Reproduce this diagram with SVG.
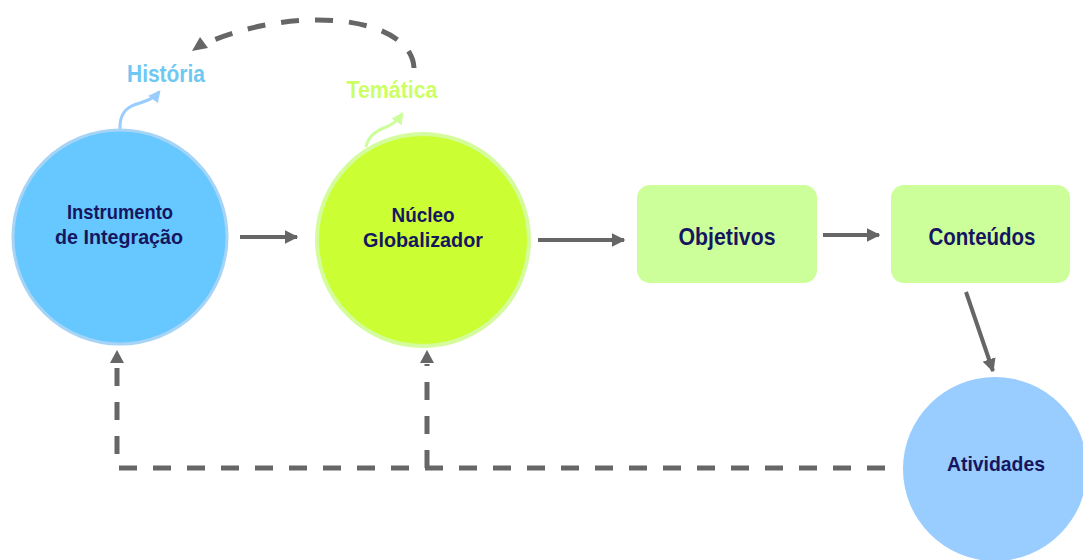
<svg xmlns="http://www.w3.org/2000/svg" width="1083" height="560" viewBox="0 0 1083 560">
<style>
.lbl{font-family:"Liberation Sans",Arial,sans-serif;font-weight:bold;fill:#161660;text-anchor:middle}
.conn{stroke:#666;fill:none;stroke-width:4}
.dash{stroke:#666;fill:none;stroke-width:5;stroke-dasharray:18 16}
</style>
<defs>
<marker id="ah" viewBox="0 0 10 10" refX="9" refY="5" markerWidth="3.4" markerHeight="3.4" orient="auto" markerUnits="strokeWidth">
<path d="M0,0 L10,5 L0,10 z" fill="#666"/>
</marker>
<marker id="ahb" viewBox="0 0 10 10" refX="8" refY="5" markerWidth="4" markerHeight="4" orient="auto" markerUnits="strokeWidth">
<path d="M0,0 L10,5 L0,10 z" fill="#99ccff"/>
</marker>
<marker id="ahg" viewBox="0 0 10 10" refX="8" refY="5" markerWidth="4" markerHeight="4" orient="auto" markerUnits="strokeWidth">
<path d="M0,0 L10,5 L0,10 z" fill="#ccff99"/>
</marker>
</defs>
<rect width="1083" height="560" fill="#fff"/>
<g id="connectors">
<line class="conn" x1="240" y1="237" x2="297" y2="237" marker-end="url(#ah)"/>
<line class="conn" x1="538" y1="240" x2="624" y2="240" marker-end="url(#ah)"/>
<line class="conn" x1="823" y1="235" x2="879" y2="235" marker-end="url(#ah)"/>
<line class="conn" x1="966" y1="292" x2="993" y2="371" marker-end="url(#ah)"/>
<path class="dash" d="M885,468 L117,468 L117,364"/>
<path d="M117,350 L110,363 L124,363 z" fill="#666"/>
<path class="dash" d="M427,468 L427,364"/>
<path d="M427,350 L420,363 L434,363 z" fill="#666"/>
<path class="dash" d="M414,68 C412,18 300,2 204,44"/>
<path d="M192,51 L200,37 L208,48 z" fill="#666"/>
<path d="M120,130 C119,112 128,106 140,103 C150,100 155,97 159,92" stroke="#99ccff" stroke-width="3" fill="none" marker-end="url(#ahb)"/>
<path d="M366,147 C368,136 376,131 386,127 C394,124 398,120 402,114" stroke="#ccff99" stroke-width="3" fill="none" marker-end="url(#ahg)"/>
</g>
<g id="historia"><text x="166" y="82" font-family="Liberation Sans,Arial,sans-serif" font-weight="bold" font-size="23" fill="#6ec8f2" text-anchor="middle" textLength="78" lengthAdjust="spacingAndGlyphs">História</text></g>
<g id="tematica"><text x="392" y="98" font-family="Liberation Sans,Arial,sans-serif" font-weight="bold" font-size="23" fill="#ccff66" text-anchor="middle" textLength="91" lengthAdjust="spacingAndGlyphs">Temática</text></g>
<g id="instrumento">
<circle cx="120" cy="237" r="107" fill="#66c8ff" stroke="#a6d4f7" stroke-width="3"/>
<text class="lbl" x="120" y="219" font-size="21" textLength="106" lengthAdjust="spacingAndGlyphs">Instrumento</text>
<text class="lbl" x="119" y="244" font-size="21" textLength="128" lengthAdjust="spacingAndGlyphs">de Integração</text>
</g>
<g id="nucleo">
<circle cx="423" cy="240" r="106" fill="#ccff33" stroke="#d4fb9c" stroke-width="4"/>
<text class="lbl" x="423" y="222" font-size="21" textLength="63" lengthAdjust="spacingAndGlyphs">Núcleo</text>
<text class="lbl" x="423" y="247" font-size="21" textLength="120" lengthAdjust="spacingAndGlyphs">Globalizador</text>
</g>
<g id="objetivos">
<rect x="637" y="185" width="180" height="98" rx="13" fill="#ccff99"/>
<text class="lbl" x="727" y="245" font-size="24" textLength="97" lengthAdjust="spacingAndGlyphs">Objetivos</text>
</g>
<g id="conteudos">
<rect x="891" y="185" width="179" height="98" rx="13" fill="#ccff99"/>
<text class="lbl" x="982" y="245" font-size="24" textLength="107" lengthAdjust="spacingAndGlyphs">Conteúdos</text>
</g>
<g id="atividades">
<circle cx="995" cy="469" r="92" fill="#99ccff"/>
<text class="lbl" x="996" y="471" font-size="21" textLength="98" lengthAdjust="spacingAndGlyphs">Atividades</text>
</g>
</svg>
